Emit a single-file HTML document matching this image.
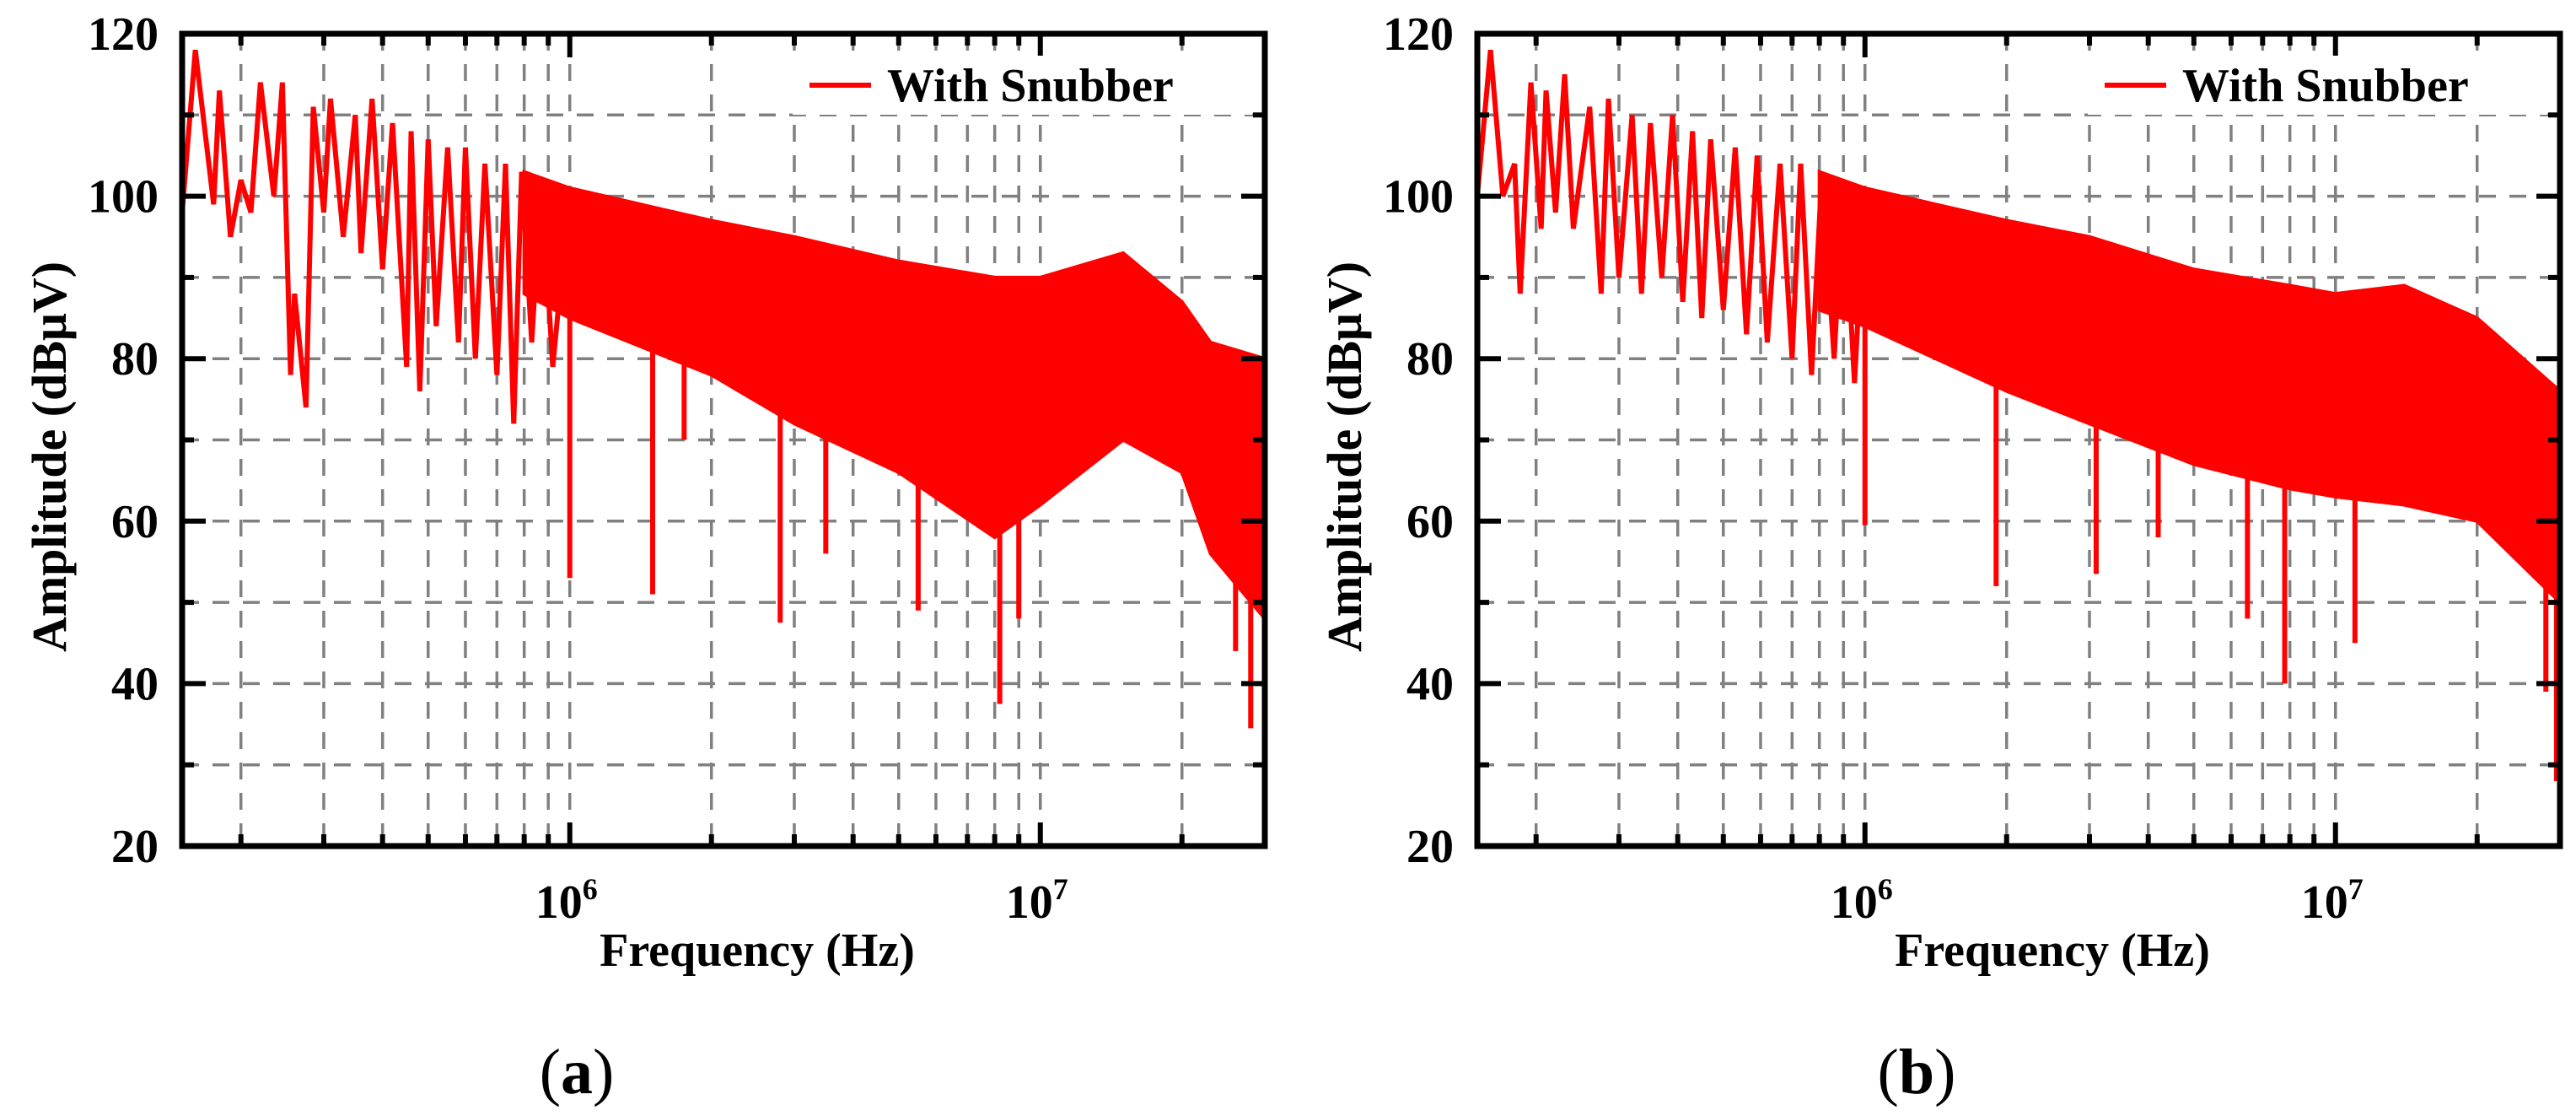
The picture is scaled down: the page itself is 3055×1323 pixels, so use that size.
<!DOCTYPE html>
<html><head><meta charset="utf-8"><style>
html,body{margin:0;padding:0;background:#fff;}
svg{display:block;font-family:"Liberation Serif",serif;}
</style></head><body>
<svg id="chart" width="3055" height="1323" viewBox="0 0 3055 1323" xmlns="http://www.w3.org/2000/svg"></svg>
<script>
// ---- Data: panel (a) ----
const aLowFreq = [1.5e5,1.6e5,1.75e5,1.8e5,1.9e5,2.0e5,2.1e5,2.2e5,2.35e5,2.45e5,2.55e5,2.6e5,2.75e5,2.85e5,3.0e5,3.1e5,3.3e5,3.5e5,3.6e5,3.8e5,4.0e5,4.2e5,4.5e5,4.6e5,4.8e5,5.0e5,5.2e5,5.5e5,5.8e5,6.0e5,6.3e5,6.6e5,7.0e5,7.3e5,7.6e5,7.9e5,8.3e5,8.7e5,9.2e5,1e6];
const aLowVal  = [98,118,99,113,95,102,98,114,100,114,78,88,74,111,98,112,95,110,93,112,91,109,79,108,76,107,84,106,82,106,80,104,78,104,72,103,82,102,79,101];
const aEnvFreq = [8e5,1e6,2e6,3e6,5e6,8e6,1e7,1.5e7,2e7,2.3e7,3e7];
const aUpper   = [103,101,97,95,92,90,90,93,87,82,80];
const aLower   = [88,85,78,72,66,58,62,70,66,56,48];
const aSpikeFreq = [1e6,1.5e6,1.75e6,2.8e6,3.5e6,5.5e6,8.2e6,9e6,2.6e7,2.8e7];
const aSpikeVal  = [53,51,70,47.5,56,49,37.5,48,44,34.5];
// ---- Data: panel (b) ----
const bLowFreq = [1.5e5,1.6e5,1.7e5,1.8e5,1.85e5,1.95e5,2.05e5,2.1e5,2.2e5,2.3e5,2.4e5,2.6e5,2.75e5,2.85e5,3.0e5,3.2e5,3.35e5,3.5e5,3.7e5,3.9e5,4.1e5,4.3e5,4.5e5,4.7e5,5.0e5,5.3e5,5.6e5,5.9e5,6.2e5,6.6e5,7.0e5,7.3e5,7.7e5,8.1e5,8.6e5,9.0e5,9.5e5,1e6];
const bLowVal  = [100,118,100,104,88,114,96,113,98,115,96,111,88,112,90,110,88,109,90,110,87,108,85,107,86,106,83,105,82,104,80,104,78,103,80,102,77,101];
const bEnvFreq = [8e5,1e6,2e6,3e6,5e6,8e6,1e7,1.4e7,2e7,3e7];
const bUpper   = [103,101,97,95,91,89,88,89,85,76];
const bLower   = [86,84,76,72,67,64,63,62,60,50];
const bSpikeFreq = [1e6,1.9e6,3.1e6,4.2e6,6.5e6,7.8e6,1.1e7,2.8e7,2.95e7];
const bSpikeVal  = [59.5,52,53.5,58,48,40,45,39,28];
// ---- Axis ----
const yTicks = [20,40,60,80,100,120];
const xGridFreq = [2e5,3e5,4e5,5e5,6e5,7e5,8e5,9e5,1e6,2e6,3e6,4e6,5e6,6e6,7e6,8e6,9e6,1e7,2e7];
const xTickExp = [6,7];

const NS="http://www.w3.org/2000/svg";
const svg=document.getElementById('chart');
function mk(tag,attrs,parent){const e=document.createElementNS(NS,tag);for(const k in attrs)e.setAttribute(k,attrs[k]);(parent||svg).appendChild(e);return e;}

function panel(id,L,lowF,lowV,envF,up,lo,spF,spV,caption,capX){
  const T=40,B=1003,R=L+1284;
  const fMin=1.5e5,fMax=3e7;
  const X=f=>L+(Math.log10(f)-Math.log10(fMin))/(Math.log10(fMax)-Math.log10(fMin))*(R-L);
  const Y=v=>B-(v-20)/100*(B-T);
  const g=mk('g',{});
  
  
  const clip=mk('clipPath',{id:'clip'+id},g);
  mk('rect',{x:L,y:T,width:R-L,height:B-T},clip);
  const grid=mk('g',{stroke:'#808080','stroke-width':3.5,'stroke-dasharray':'20,16'},g);
  
  
  for(const f of xGridFreq){mk('line',{x1:X(f),x2:X(f),y1:T,y2:B},grid);}
  for(let v=30;v<120;v+=10){mk('line',{x1:L,x2:R,y1:Y(v),y2:Y(v)},grid);}
  const s=mk('g',{'clip-path':'url(#clip'+id+')'},g);
  
  
  let pts=[];
  for(let i=0;i<envF.length;i++)pts.push(X(envF[i])+','+Y(up[i]));
  for(let i=envF.length-1;i>=0;i--)pts.push(X(envF[i])+','+Y(lo[i]));
  const band=mk('polygon',{points:pts.join(' '),fill:'#ff0000',stroke:'#ff0000','stroke-width':4},s);
  
  
  const lp=lowF.map((f,i)=>X(f)+','+Y(lowV[i])).join(' ');
  const line=mk('polyline',{points:lp,fill:'none',stroke:'#ff0000','stroke-width':6,'stroke-linejoin':'miter'},s);
  
  
  for(let i=0;i<spF.length;i++){
    let k=0;while(k<envF.length-2&&envF[k+1]<spF[i])k++;
    const t=(Math.log10(spF[i])-Math.log10(envF[k]))/(Math.log10(envF[k+1])-Math.log10(envF[k]));
    const base=lo[k]+(lo[k+1]-lo[k])*Math.max(0,Math.min(1,t));
    const sp=mk('line',{x1:X(spF[i]),x2:X(spF[i]),y1:Y(base),y2:Y(spV[i]),stroke:'#ff0000','stroke-width':6},s);
    
    
  }
  const fr=mk('rect',{x:L,y:T,width:R-L,height:B-T,fill:'none',stroke:'#000','stroke-width':7},g);
  
  
  for(let v=20;v<=120;v+=10){const len=v%20===0?28:14;
    mk('line',{x1:L,x2:L+len,y1:Y(v),y2:Y(v),stroke:'#000','stroke-width':6},g);
    mk('line',{x1:R,x2:R-len,y1:Y(v),y2:Y(v),stroke:'#000','stroke-width':6},g);}
  for(const f of xGridFreq){const len=(f===1e6||f===1e7)?28:14;
    mk('line',{x1:X(f),x2:X(f),y1:T,y2:T+len,stroke:'#000','stroke-width':6},g);
    mk('line',{x1:X(f),x2:X(f),y1:B,y2:B-len,stroke:'#000','stroke-width':6},g);}
  for(const v of yTicks){const t=mk('text',{x:L-28,y:Y(v)+19,'text-anchor':'end','font-size':56,'font-weight':'bold'},g);t.textContent=v;
    
    }
  for(const e of xTickExp){const t=mk('text',{x:X(Math.pow(10,e))-4,y:1088,'text-anchor':'middle','font-size':56,'font-weight':'bold'},g);
    
    
    t.textContent='10';const sup=mk('tspan',{dy:-22,'font-size':36},t);sup.textContent=e;}
  const xt=mk('text',{x:L+682,y:1145,'text-anchor':'middle','font-size':56,'font-weight':'bold'},g);xt.textContent='Frequency (Hz)';
  
  
  const yt=mk('text',{x:0,y:0,'text-anchor':'middle','font-size':58,'font-weight':'bold',transform:'translate('+(L-138)+','+((T+B)/2+20)+') rotate(-90)'},g);yt.textContent='Amplitude (dBμV)';
  
  
  const lg=mk('g',{},g);
  
  
  mk('rect',{x:R-560,y:66,width:545,height:70,fill:'#fff'},lg);
  mk('line',{x1:R-540,x2:R-467,y1:101,y2:101,stroke:'#ff0000','stroke-width':6},lg);
  const lt=mk('text',{x:R-448,y:120,'font-size':56,'font-weight':'bold'},lg);lt.textContent='With Snubber';
  const cap=mk('text',{x:capX,y:1296,'text-anchor':'middle','font-size':76},g);
  
  
  cap.textContent='(';const cb=mk('tspan',{'font-weight':'bold'},cap);cb.textContent=caption;const c2=mk('tspan',{},cap);c2.textContent=')';
}
panel('a',216,aLowFreq,aLowVal,aEnvFreq,aUpper,aLower,aSpikeFreq,aSpikeVal,'a',684);
panel('b',1752,bLowFreq,bLowVal,bEnvFreq,bUpper,bLower,bSpikeFreq,bSpikeVal,'b',2273);
</script>
</body></html>
